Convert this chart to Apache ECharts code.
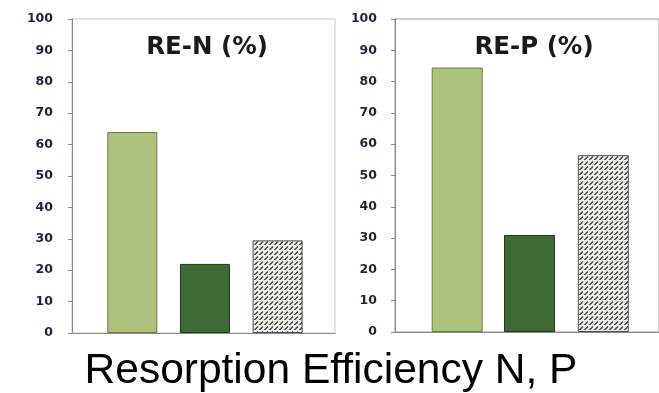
<!DOCTYPE html>
<html>
<head>
<meta charset="utf-8">
<script src="https://cdn.jsdelivr.net/npm/echarts@6/dist/echarts.min.js"></script>
<style>
  html, body { margin: 0; padding: 0; background: #ffffff; }
  #chart { width: 659px; height: 393px; }
</style>
</head>
<body>
<div id="chart"></div>
<script>
// Resorption efficiency of N and P for three treatments
var treatments = ['A', 'B', 'C'];
var reN = [64, 22, 29.5];
var reP = [84.5, 31, 56.5];
var yTicks = [0, 10, 20, 30, 40, 50, 60, 70, 80, 90, 100];
var panelTitles = ['RE-N (%)', 'RE-P (%)'];
var caption = 'Resorption Efficiency N, P';

// hatched fill for the third treatment
function hatchPattern() {
  var c = document.createElement('canvas');
  c.width = 5; c.height = 5;
  var g = c.getContext('2d');
  g.fillStyle = '#eef2ea';
  g.fillRect(0, 0, 5, 5);
  g.strokeStyle = '#3a3f37';
  g.lineWidth = 1.3;
  g.beginPath();
  g.moveTo(0.5, 4); g.lineTo(3, 1.5);
  g.moveTo(3, 6.5); g.lineTo(5.5, 4);
  g.moveTo(-2, 6.5); g.lineTo(0.5, 4);
  g.stroke();
  return c;
}
var hatch = { image: hatchPattern(), repeat: 'repeat' };

var fills = [
  { color: '#adc27b', borderColor: '#6b7a48' },
  { color: '#3e6a36', borderColor: '#27341f' },
  { color: hatch, borderColor: '#4a4d48' }
];

// x positions of the bars in each panel
var xPosN = [0.83, 1.83, 2.83];
var xPosP = [0.86, 1.86, 2.88];

function barData(vals, xs) {
  return vals.map(function (v, i) {
    return {
      name: treatments[i],
      value: [xs[i], v],
      itemStyle: { color: fills[i].color, borderColor: fills[i].borderColor, borderWidth: 1 }
    };
  });
}

var yAxisBase = {
  type: 'value', min: 0, max: 100, interval: 10,
  axisLine: { show: true, lineStyle: { color: '#8a8a8a', width: 1 } },
  axisTick: { show: true, length: 4, lineStyle: { color: '#8a8a8a' } },
  splitLine: { show: false },
  axisLabel: {
    fontFamily: 'DejaVu Sans', fontWeight: 'bold', fontSize: 12.5,
    color: '#1c2242', margin: 19,
    formatter: function (v) { return yTicks.indexOf(v) >= 0 ? String(v) : ''; }
  }
};
var xAxisBase = {
  type: 'value', min: 0, max: 3.62,
  axisLine: { show: true, onZero: false, lineStyle: { color: '#8a8a8a', width: 1 } },
  axisTick: { show: false }, axisLabel: { show: false }, splitLine: { show: false }
};

var chart = echarts.init(document.getElementById('chart'), null, { renderer: 'canvas' });
chart.setOption({
  backgroundColor: '#ffffff',
  animation: false,
  title: [
    { text: panelTitles[0], left: 202, top: 30, textAlign: 'center',
      textStyle: { fontFamily: 'DejaVu Sans', fontWeight: 'bold', fontSize: 24.5, color: '#1a1a1a' } },
    { text: panelTitles[1], left: 529, top: 30, textAlign: 'center',
      textStyle: { fontFamily: 'DejaVu Sans', fontWeight: 'bold', fontSize: 24.5, color: '#1a1a1a' } },
    { text: caption, left: 326, top: 345, textAlign: 'center',
      textStyle: { fontFamily: 'Liberation Sans', fontWeight: 'normal', fontSize: 42.5, color: '#000000' } }
  ],
  grid: [
    { left: 72, top: 19, width: 263, height: 314, show: true, borderColor: '#c8c8c8', borderWidth: 1 },
    { left: 395, top: 19, width: 270, height: 313, show: true, borderColor: '#9a9a9a', borderWidth: 1 }
  ],
  xAxis: [
    Object.assign({}, xAxisBase, { gridIndex: 0 }),
    Object.assign({}, xAxisBase, { gridIndex: 1, max: 3.65 })
  ],
  yAxis: [
    Object.assign({}, yAxisBase, { gridIndex: 0 }),
    Object.assign({}, yAxisBase, { gridIndex: 1, axisLabel: Object.assign({}, yAxisBase.axisLabel, { margin: 18 }) })
  ],
  series: [
    { type: 'bar', xAxisIndex: 0, yAxisIndex: 0, barWidth: 50, data: barData(reN, xPosN) },
    { type: 'bar', xAxisIndex: 1, yAxisIndex: 1, barWidth: 51, data: barData(reP, xPosP) }
  ]
});
</script>
</body>
</html>
